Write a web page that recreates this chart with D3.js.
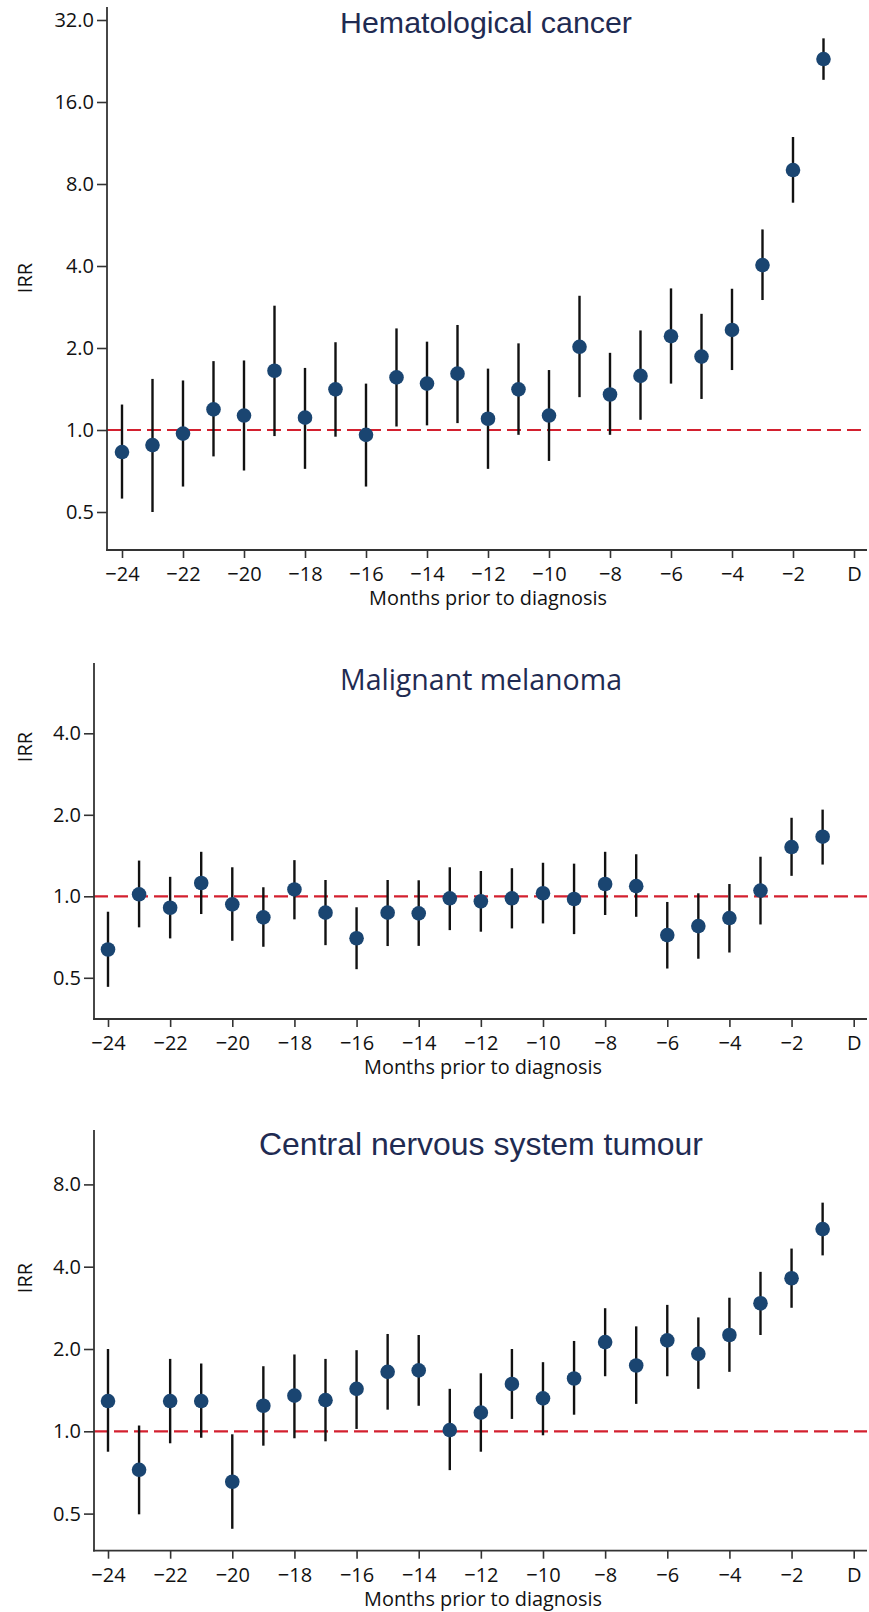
<!DOCTYPE html>
<html>
<head>
<meta charset="utf-8">
<script src="https://cdn.jsdelivr.net/npm/d3@7"></script>
<style>
  html, body { margin: 0; padding: 0; background: #fff; }
  svg { display: block; }
  .tick text { font-family: "Open Sans", "Noto Sans", sans-serif; fill: #111; }
</style>
</head>
<body>
<svg id="chart" width="869" height="1612"></svg>
<script>
// ---------------- data ----------------
const months = [-24,-23,-22,-21,-20,-19,-18,-17,-16,-15,-14,-13,-12,-11,-10,-9,-8,-7,-6,-5,-4,-3,-2,-1];
const xTickValues = [-24,-22,-20,-18,-16,-14,-12,-10,-8,-6,-4,-2,0];
const xTickLabels = ["\u221224","\u221222","\u221220","\u221218","\u221216","\u221214","\u221212","\u221210","\u22128","\u22126","\u22124","\u22122","D"];
const xAxisTitle = "Months prior to diagnosis";
const yAxisTitle = "IRR";

const titles = ["Hematological cancer", "Malignant melanoma", "Central nervous system tumour"];

// Hematological cancer
const hemIRR   = [0.83,0.88,0.97,1.19,1.13,1.65,1.11,1.41,0.96,1.56,1.48,1.61,1.10,1.41,1.13,2.02,1.35,1.58,2.21,1.86,2.33,4.03,9.0,23.0];
const hemLower = [0.56,0.50,0.62,0.80,0.71,0.95,0.72,0.945,0.62,1.03,1.04,1.06,0.72,0.96,0.77,1.32,0.96,1.09,1.48,1.30,1.66,3.0,6.83,19.3];
const hemUpper = [1.24,1.54,1.52,1.79,1.80,2.86,1.69,2.10,1.48,2.36,2.11,2.43,1.68,2.08,1.66,3.11,1.92,2.32,3.31,2.67,3.30,5.45,11.9,27.4];
const hemYTicks = [0.5,1,2,4,8,16,32];
const hemYLabels = ["0.5","1.0","2.0","4.0","8.0","16.0","32.0"];

// Malignant melanoma
const melIRR   = [0.636,1.017,0.907,1.12,0.934,0.836,1.06,0.87,0.70,0.87,0.865,0.983,0.958,0.983,1.026,0.977,1.11,1.09,0.719,0.776,0.831,1.05,1.52,1.66];
const melLower = [0.463,0.768,0.699,0.86,0.685,0.651,0.822,0.66,0.538,0.655,0.656,0.75,0.74,0.761,0.794,0.725,0.853,0.84,0.541,0.588,0.62,0.787,1.19,1.31];
const melUpper = [0.877,1.355,1.18,1.46,1.28,1.08,1.36,1.149,0.911,1.149,1.146,1.28,1.24,1.27,1.33,1.32,1.46,1.43,0.953,1.026,1.11,1.40,1.95,2.09];
const melYTicks = [0.5,1,2,4];
const melYLabels = ["0.5","1.0","2.0","4.0"];

// Central nervous system tumour
const cnsIRR   = [1.29,0.723,1.29,1.29,0.654,1.24,1.35,1.30,1.43,1.65,1.67,1.01,1.17,1.49,1.32,1.56,2.12,1.74,2.15,1.92,2.25,2.94,3.63,5.49];
const cnsLower = [0.842,0.497,0.904,0.947,0.44,0.886,0.943,0.919,1.02,1.20,1.24,0.721,0.842,1.11,0.967,1.15,1.59,1.26,1.59,1.43,1.65,2.25,2.83,4.40];
const cnsUpper = [2.0,1.05,1.84,1.77,0.975,1.73,1.91,1.84,1.98,2.27,2.25,1.43,1.63,2.0,1.79,2.14,2.82,2.42,2.90,2.61,3.08,3.83,4.66,6.86];
const cnsYTicks = [0.5,1,2,4,8];
const cnsYLabels = ["0.5","1.0","2.0","4.0","8.0"];

const referenceIRR = 1;

// ---------------- layout / style ----------------
const panels = [
  { title: titles[0], irr: hemIRR, lo: hemLower, hi: hemUpper, yTicks: hemYTicks, yLabels: hemYLabels,
    axisX: 107, x24: 122, x0: 854, top: 7, bottom: 550, yOne: 430, perDoubling: 82,
    titleX: 486, titleY: 33, titleW: 292, titleFont: "Liberation Sans, Arial, sans-serif", irrY: 278 },
  { title: titles[1], irr: melIRR, lo: melLower, hi: melUpper, yTicks: melYTicks, yLabels: melYLabels,
    axisX: 94, x24: 108, x0: 853.7, top: 663, bottom: 1019, yOne: 896.3, perDoubling: 81.5,
    titleX: 481, titleY: 690, titleW: 282, titleFont: "Open Sans, Noto Sans, sans-serif", irrY: 747 },
  { title: titles[2], irr: cnsIRR, lo: cnsLower, hi: cnsUpper, yTicks: cnsYTicks, yLabels: cnsYLabels,
    axisX: 94, x24: 108, x0: 853.7, top: 1130, bottom: 1550.7, yOne: 1431.3, perDoubling: 82.3,
    titleX: 481, titleY: 1155, titleW: 444, titleFont: "Liberation Sans, Arial, sans-serif", irrY: 1278 }
];
const rightEdge = 867;
const dotColor = "#1a4571";
const titleColor = "#1f2b52";
const axisColor = "#333";
const refColor = "#d3202f";
const labelFont = "Open Sans, Noto Sans, sans-serif";

const svg = d3.select("#chart");

function fitText(sel, targetW) {
  const node = sel.node();
  const w = node.getComputedTextLength();
  const fs = parseFloat(sel.attr("font-size"));
  if (w > 0) sel.attr("font-size", (fs * targetW / w).toFixed(2));
}

panels.forEach(p => {
  const g = svg.append("g");
  const x = d3.scaleLinear().domain([-24, 0]).range([p.x24, p.x0]);
  const valAt = yy => Math.pow(2, (p.yOne - yy) / p.perDoubling);
  const y = d3.scaleLog().base(2).domain([valAt(p.bottom), valAt(p.top)]).range([p.bottom, p.top]);

  // reference line
  g.append("line")
    .attr("x1", p.axisX).attr("x2", rightEdge)
    .attr("y1", y(referenceIRR)).attr("y2", y(referenceIRR))
    .attr("stroke", refColor).attr("stroke-width", 2.2)
    .attr("stroke-dasharray", "14,6");

  // y axis
  const yAxis = d3.axisLeft(y).tickValues(p.yTicks)
    .tickFormat((d, i) => p.yLabels[i]).tickSize(10).tickSizeOuter(0).tickPadding(3);
  const ya = g.append("g").attr("transform", `translate(${p.axisX},0)`).call(yAxis);
  ya.select(".domain").remove();
  ya.selectAll(".tick line").attr("stroke", axisColor).attr("stroke-width", 1.6);
  ya.selectAll(".tick text").attr("font-size", 20).attr("font-family", labelFont).attr("fill", "#111");

  // x axis
  const xAxis = d3.axisBottom(x).tickValues(xTickValues)
    .tickFormat((d, i) => xTickLabels[i]).tickSize(8).tickSizeOuter(0).tickPadding(9);
  const xa = g.append("g").attr("transform", `translate(0,${p.bottom})`).call(xAxis);
  xa.select(".domain").remove();
  xa.selectAll(".tick line").attr("stroke", axisColor).attr("stroke-width", 1.6);
  xa.selectAll(".tick text").attr("font-size", 20).attr("font-family", labelFont).attr("fill", "#111");

  // axis lines
  g.append("line").attr("x1", p.axisX).attr("x2", p.axisX).attr("y1", p.top).attr("y2", p.bottom + 0.8)
    .attr("stroke", axisColor).attr("stroke-width", 1.8);
  g.append("line").attr("x1", p.axisX - 0.9).attr("x2", rightEdge).attr("y1", p.bottom).attr("y2", p.bottom)
    .attr("stroke", axisColor).attr("stroke-width", 1.8);

  // error bars
  g.selectAll(".ci").data(months).join("line")
    .attr("class", "ci")
    .attr("x1", d => x(d)).attr("x2", d => x(d))
    .attr("y1", (d, i) => y(p.lo[i])).attr("y2", (d, i) => y(p.hi[i]))
    .attr("stroke", "#111").attr("stroke-width", 2.4);

  // points
  g.selectAll(".pt").data(months).join("circle")
    .attr("class", "pt")
    .attr("cx", d => x(d)).attr("cy", (d, i) => y(p.irr[i]))
    .attr("r", 7.3).attr("fill", dotColor);

  // title
  const t = g.append("text").text(p.title)
    .attr("x", p.titleX).attr("y", p.titleY).attr("text-anchor", "middle")
    .attr("font-family", p.titleFont).attr("font-size", 30).attr("fill", titleColor);
  fitText(t, p.titleW);

  // x axis title
  const xt = g.append("text").text(xAxisTitle)
    .attr("x", (p.axisX + rightEdge) / 2 + 0).attr("y", p.bottom + 55).attr("text-anchor", "middle")
    .attr("font-family", labelFont).attr("font-size", 19).attr("fill", "#111");
  xt.attr("x", p.titleX + 2);
  fitText(xt, 238);

  // y axis title
  g.append("text").text(yAxisTitle)
    .attr("transform", `translate(32,${p.irrY}) rotate(-90)`)
    .attr("text-anchor", "middle")
    .attr("font-family", labelFont).attr("font-size", 20).attr("fill", "#111");
});
</script>
</body>
</html>
